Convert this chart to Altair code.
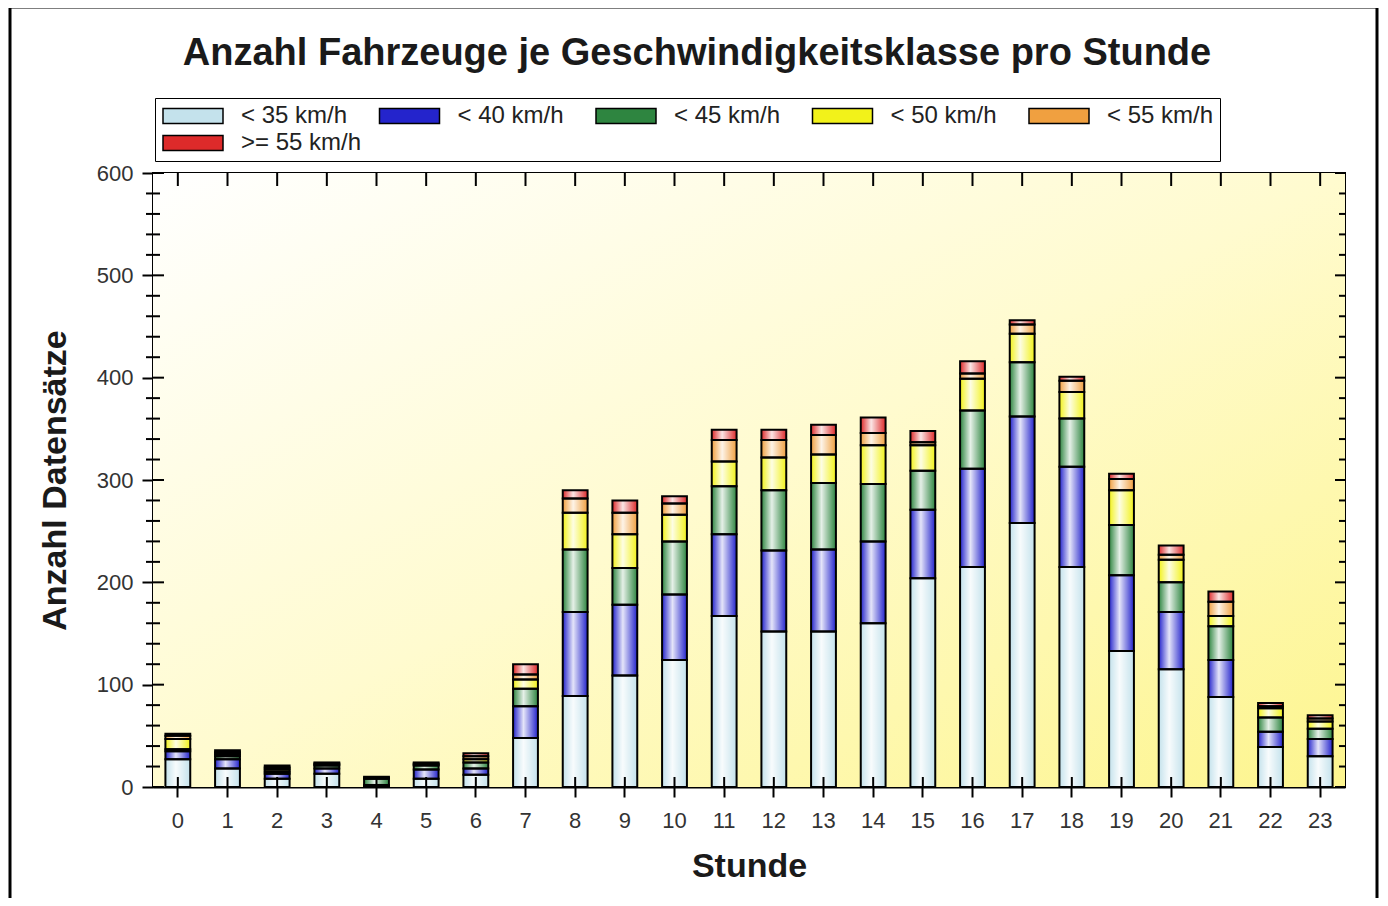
import altair as alt
import pandas as pd

hours = list(range(24))
classes = ["< 35 km/h", "< 40 km/h", "< 45 km/h", "< 50 km/h", "< 55 km/h", ">= 55 km/h"]
lt35 = [27, 18, 8, 13, 1, 8, 12, 48, 89, 109, 124, 167, 152, 152, 160, 204, 215, 258, 215, 133, 115, 88, 39, 30]
lt40 = [8, 9, 5, 5, 1, 9, 6, 31, 82, 69, 64, 80, 79, 80, 80, 67, 96, 104, 98, 74, 56, 36, 15, 17]
lt45 = [2, 3, 2, 3, 6, 4, 6, 17, 61, 36, 52, 47, 59, 65, 56, 38, 57, 53, 47, 49, 29, 33, 14, 10]
lt50 = [10, 2, 2, 1, 1, 1, 3, 9, 36, 33, 26, 24, 32, 28, 38, 25, 31, 28, 26, 34, 22, 10, 9, 7]
lt55 = [3, 2, 2, 1, 0, 1, 3, 5, 14, 21, 11, 21, 17, 19, 12, 3, 5, 9, 11, 11, 5, 14, 2, 3]
ge55 = [2, 2, 2, 1, 1, 1, 3, 10, 8, 12, 7, 10, 10, 10, 15, 11, 12, 4, 4, 5, 9, 10, 3, 3]
series = [lt35, lt40, lt45, lt50, lt55, ge55]
colors = ["#c4e2ec", "#2424cc", "#2e8540", "#f2f21a", "#f0a040", "#dd2a2a"]

y_major = [0, 100, 200, 300, 400, 500, 600]
y_minor = [v for v in range(20, 600, 20) if v % 100 != 0]

rows = []
for h in hours:
    base = 0
    for ci, (c, vals) in enumerate(zip(classes, series)):
        v = vals[h]
        rows.append({"hour": h, "klasse": c, "order": ci, "value": v, "y0": base, "y1": base + v})
        base += v
df = pd.DataFrame(rows)

W, H = 1192, 614
FONT = "Liberation Sans"

x_scale = alt.Scale(paddingInner=0.5, paddingOuter=0.25)
x_axis = alt.Axis(title="Stunde", labelAngle=0, tickSize=10, tickWidth=2, tickColor="black",
                  domainColor="black", domainWidth=2, labelFont=FONT, labelFontSize=22,
                  labelColor="#333333", labelPadding=13, titleFont=FONT, titleFontSize=34,
                  titleFontWeight="bold", titleColor="#1a1a1a", titlePadding=18, grid=False)
y_scale = alt.Scale(domain=[0, 600], nice=False)
y_axis = alt.Axis(title="Anzahl Datensätze", values=y_major, tickSize=11, tickWidth=2, tickColor="black",
                  domainColor="black", domainWidth=2, labelFont=FONT, labelFontSize=22,
                  labelColor="#333333", labelPadding=9, titleFont=FONT, titleFontSize=34,
                  titleFontWeight="bold", titleColor="#1a1a1a", titlePadding=24, grid=False)

X = alt.X("hour:O", scale=x_scale, axis=x_axis)

one = alt.Data(values=[{"a": 1}])

border = alt.Chart(one).mark_rect(fillOpacity=0, stroke="black", strokeWidth=3).encode(
    x=alt.value(-143), x2=alt.value(1224), y=alt.value(-166), y2=alt.value(780))

bg = alt.Chart(one).mark_rect(fill={
    "gradient": "linear", "x1": 0, "y1": 0, "x2": 1, "y2": 1,
    "stops": [{"offset": 0, "color": "#ffffff"}, {"offset": 0.5, "color": "#fffbcf"},
              {"offset": 1, "color": "#fdf58e"}]}).encode(
    x=alt.value(0), x2=alt.value(W), y=alt.value(0), y2=alt.value(H))

legend = alt.Legend(orient="none", legendX=2, legendY=-75, direction="horizontal", columns=5,
                    title=None, symbolType="M-1,-0.75H5V0.75H-1Z", symbolSize=400,
                    symbolStrokeColor="black", symbolStrokeWidth=1.5, symbolOpacity=1,
                    labelFont=FONT, labelFontSize=24, labelColor="#222222", labelOffset=56,
                    columnPadding=14.5, rowPadding=3, padding=6, strokeColor="black",
                    fillColor="white", gridAlign="all")

bars = alt.Chart(df).mark_bar(opacity=1).encode(
    x=X,
    y=alt.Y("y0:Q", scale=y_scale, axis=y_axis),
    y2="y1:Q",
    color=alt.Color("klasse:N", scale=alt.Scale(domain=classes, range=colors), legend=legend),
)

gloss = alt.Chart(df).mark_bar(fill={
    "gradient": "linear", "x1": 0, "y1": 0, "x2": 1, "y2": 0,
    "stops": [{"offset": 0, "color": "rgba(255,255,255,0)"},
              {"offset": 0.42, "color": "rgba(255,255,255,0.88)"},
              {"offset": 1, "color": "rgba(255,255,255,0)"}]}).encode(
    x=X, y=alt.Y("y0:Q", scale=y_scale, axis=y_axis), y2="y1:Q")

outline = alt.Chart(df).mark_bar(fillOpacity=0, stroke="black", strokeWidth=2).encode(
    x=X, y=alt.Y("y0:Q", scale=y_scale, axis=y_axis), y2="y1:Q")

hdf = pd.DataFrame({"hour": hours})
xticks_in = alt.Chart(hdf).mark_rule(color="black", strokeWidth=2).encode(
    x=X, y=alt.value(H - 10), y2=alt.value(H))
xticks_top = alt.Chart(hdf).mark_rule(color="black", strokeWidth=2).encode(
    x=X, y=alt.value(0), y2=alt.value(13))

Ymaj = alt.Y("v:Q", scale=y_scale, axis=y_axis)
majdf = pd.DataFrame({"v": y_major})
mindf = pd.DataFrame({"v": y_minor})
yticks_maj_in = alt.Chart(majdf).mark_rule(color="black", strokeWidth=2).encode(
    y=Ymaj, x=alt.value(0), x2=alt.value(11))
yticks_min = alt.Chart(mindf).mark_rule(color="black", strokeWidth=2).encode(
    y=Ymaj, x=alt.value(-7), x2=alt.value(7))
yticks_maj_r = alt.Chart(majdf).mark_rule(color="black", strokeWidth=2).encode(
    y=Ymaj, x=alt.value(W - 10), x2=alt.value(W))
yticks_min_r = alt.Chart(mindf).mark_rule(color="black", strokeWidth=2).encode(
    y=Ymaj, x=alt.value(W - 6), x2=alt.value(W))

chart = alt.layer(
    border, bg, bars, gloss, outline, xticks_in, xticks_top,
    yticks_maj_in, yticks_min, yticks_maj_r, yticks_min_r
).properties(
    width=W, height=H,
    padding={"left": 145, "top": 165, "right": 34, "bottom": 111},
    autosize=alt.AutoSizeParams(type="none"),
    background="white",
    title=alt.TitleParams(text="Anzahl Fahrzeuge je Geschwindigkeitsklasse pro Stunde",
                          font=FONT, fontSize=38, fontWeight="bold", color="#1a1a1a",
                          anchor="middle", frame="group", dx=-52, dy=77, offset=10),
).configure_view(stroke="black", strokeWidth=2)

chart.save("out.html", embed_options={"renderer": "svg", "actions": False})
